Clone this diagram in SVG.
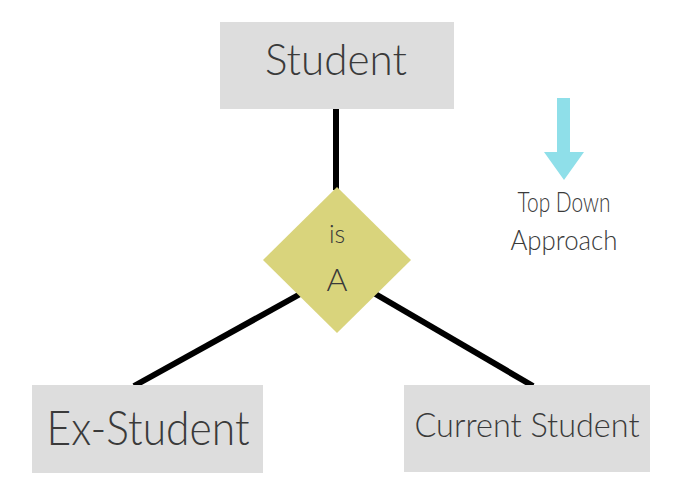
<svg xmlns="http://www.w3.org/2000/svg" width="682" height="500" viewBox="0 0 682 500">
<style>
.box{fill:#dddddd}
.lbl{font-family:Lato,"Open Sans","Liberation Sans",sans-serif;font-weight:300;fill:#3a3a3a;text-anchor:middle}
.conn{stroke:#000;stroke-width:6;fill:none}
</style>
<rect width="682" height="500" fill="#ffffff"/>
<g id="connectors">
<line class="conn" x1="336" y1="109" x2="336" y2="190"/>
<line class="conn" x1="302" y1="293" x2="134" y2="386"/>
<line class="conn" x1="372" y1="292" x2="533" y2="386"/>
</g>
<g id="student">
<rect class="box" x="220" y="22" width="234" height="87"/>
<text class="lbl" x="336" y="75" font-size="44" textLength="142" lengthAdjust="spacingAndGlyphs">Student</text>
</g>
<g id="isa">
<polygon points="337,187 411,260 337,333 263,260" fill="#d9d47c"/>
<text class="lbl" x="337" y="243" font-size="25">is</text>
<text class="lbl" x="337" y="291" font-size="32">A</text>
</g>
<g id="ex-student">
<rect class="box" x="32" y="385" width="231" height="88"/>
<text class="lbl" x="148" y="445" font-size="47" textLength="203" lengthAdjust="spacingAndGlyphs">Ex-Student</text>
</g>
<g id="current-student">
<rect class="box" x="404" y="385" width="246" height="87"/>
<text class="lbl" x="527" y="437" font-size="34" textLength="225" lengthAdjust="spacingAndGlyphs">Current Student</text>
</g>
<g id="top-down">
<polygon points="557,98 570,98 570,152 584,152 564,180 544,152 557,152" fill="#8fdfe9"/>
<text class="lbl" x="564" y="212" font-size="28" textLength="93" lengthAdjust="spacingAndGlyphs">Top Down</text>
<text class="lbl" x="564" y="250" font-size="28" textLength="107" lengthAdjust="spacingAndGlyphs">Approach</text>
</g>
</svg>
